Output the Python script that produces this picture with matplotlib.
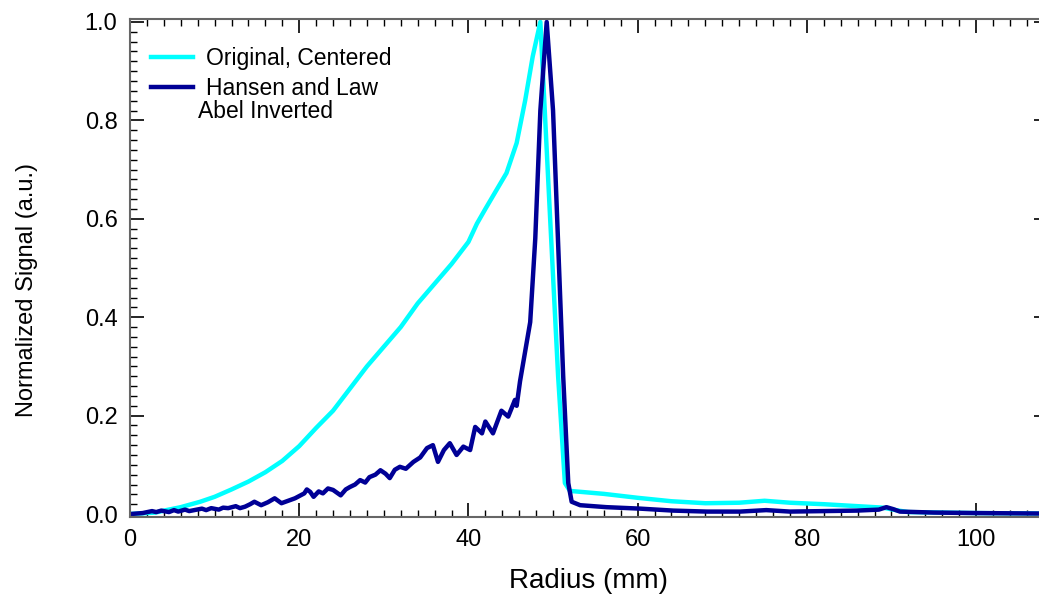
import matplotlib
matplotlib.use("Agg")
import matplotlib.pyplot as plt
from matplotlib.ticker import MultipleLocator

plt.rcParams['font.family'] = ['Liberation Sans', 'DejaVu Sans']

# original, centered profile
orig_r = [0, 3, 4.3, 6, 8.3, 10, 12, 14, 16, 18, 20, 22, 24, 26, 28, 30, 32,
          34, 36, 38, 40, 41, 42, 43.3, 44.5, 45.7, 46.7, 47.6, 48.5, 49.6,
          50.6, 51.4, 52, 56, 60, 64, 68, 72, 75, 78, 82, 86, 89, 90.5, 92,
          96, 100, 108]
orig_s = [0, 0.003, 0.008, 0.014, 0.025, 0.035, 0.05, 0.066, 0.085, 0.108,
          0.138, 0.175, 0.21, 0.255, 0.30, 0.34, 0.38, 0.428, 0.468, 0.508,
          0.553, 0.59, 0.62, 0.658, 0.693, 0.754, 0.84, 0.93, 1.0, 0.62,
          0.28, 0.063, 0.047, 0.041, 0.033, 0.026, 0.022, 0.023, 0.027,
          0.023, 0.02, 0.016, 0.013, 0.008, 0.004, 0.003, 0.002, 0.001]

# Hansen and Law inverse Abel transform
hl_r = [0, 1.5, 2.6, 3.1, 3.7, 4.6, 5.2, 5.7, 6.5, 7.0, 7.6, 8.5, 9.0, 9.6,
        10.5, 11.0, 11.6, 12.5, 13.0, 13.6, 14.2, 14.7, 15.5, 16.3, 17.1,
        17.9, 18.7, 19.5, 20.6, 20.9, 21.3, 21.7, 22.3, 22.8, 23.4, 24.0,
        24.9, 25.5, 26.0, 26.6, 27.2, 27.8, 28.3, 29.0, 29.6, 30.2, 30.7,
        31.3, 31.9, 32.6, 33.5, 34.3, 35.1, 35.8, 36.4, 37.1, 37.8, 38.6,
        39.4, 40.2, 40.8, 41.6, 42.0, 42.9, 43.9, 44.7, 45.5, 45.7, 46.1,
        46.7, 47.3, 47.9, 48.5, 49.25, 50.0, 50.6, 51.2, 51.8, 52.2, 53.2,
        56.3, 60.3, 64.2, 68.2, 72.1, 75.2, 78, 82, 85.9, 88.5, 89.4, 90.2,
        91, 95, 100, 108]
hl_s = [0, 0.002, 0.006, 0.004, 0.007, 0.004, 0.008, 0.005, 0.009, 0.006,
        0.008, 0.011, 0.008, 0.012, 0.009, 0.013, 0.012, 0.016, 0.012,
        0.015, 0.02, 0.025, 0.018, 0.024, 0.032, 0.022, 0.027, 0.032, 0.042,
        0.05, 0.045, 0.035, 0.046, 0.042, 0.052, 0.049, 0.038, 0.05, 0.055,
        0.06, 0.069, 0.064, 0.075, 0.08, 0.089, 0.082, 0.073, 0.09, 0.096,
        0.092, 0.106, 0.115, 0.134, 0.14, 0.106, 0.13, 0.144, 0.12, 0.137,
        0.13, 0.177, 0.164, 0.188, 0.164, 0.21, 0.198, 0.232, 0.22, 0.27,
        0.33, 0.39, 0.56, 0.82, 1.0, 0.82, 0.55, 0.28, 0.063, 0.025, 0.018,
        0.014, 0.011, 0.007, 0.005, 0.005, 0.008, 0.005, 0.006, 0.007,
        0.009, 0.014, 0.01, 0.005, 0.003, 0.002, 0.001]

fig = plt.figure(figsize=(10.39, 5.99), dpi=100)
ax = fig.add_axes([130 / 1039, 82 / 599, 918 / 1039, 498 / 599])

ax.plot(orig_r, orig_s, color='#00ffff', lw=3.2, label='Original, Centered')
ax.plot(hl_r, hl_s, color='#000096', lw=3.2, label='Hansen and Law')

ax.set_xlim(0, 108.5)
ax.set_ylim(-0.006, 1.006)
ax.xaxis.set_major_locator(MultipleLocator(20))
ax.xaxis.set_minor_locator(MultipleLocator(2))
ax.yaxis.set_major_locator(MultipleLocator(0.2))
ax.yaxis.set_minor_locator(MultipleLocator(0.02))
ax.yaxis.set_major_formatter(plt.FormatStrFormatter('%.1f'))
ax.tick_params(which='both', direction='in', top=True, right=True,
               labelsize=17, color='black')
ax.tick_params(which='major', length=10, width=1.2, pad=9)
ax.tick_params(which='minor', length=5, width=1)
for sp in ax.spines.values():
    sp.set_color('#666666')
    sp.set_linewidth(1.5)

ax.set_xlabel('Radius (mm)', fontsize=20)
ax.set_ylabel('Normalized Signal (a.u.)', fontsize=17)
ax.xaxis.set_label_coords(0.499, -0.102)
ax.yaxis.set_label_coords(-0.1, 0.456)

ax.legend(loc='upper left', bbox_to_anchor=(0.005, 0.975), frameon=False,
          fontsize=16.5, handlelength=1.85, handletextpad=0.57,
          labelspacing=0.27, borderaxespad=0.3)
ax.text(0.074, 0.815, 'Abel Inverted', transform=ax.transAxes,
        fontsize=16.5, va='center', ha='left')

fig.savefig('out.png', dpi=100)
